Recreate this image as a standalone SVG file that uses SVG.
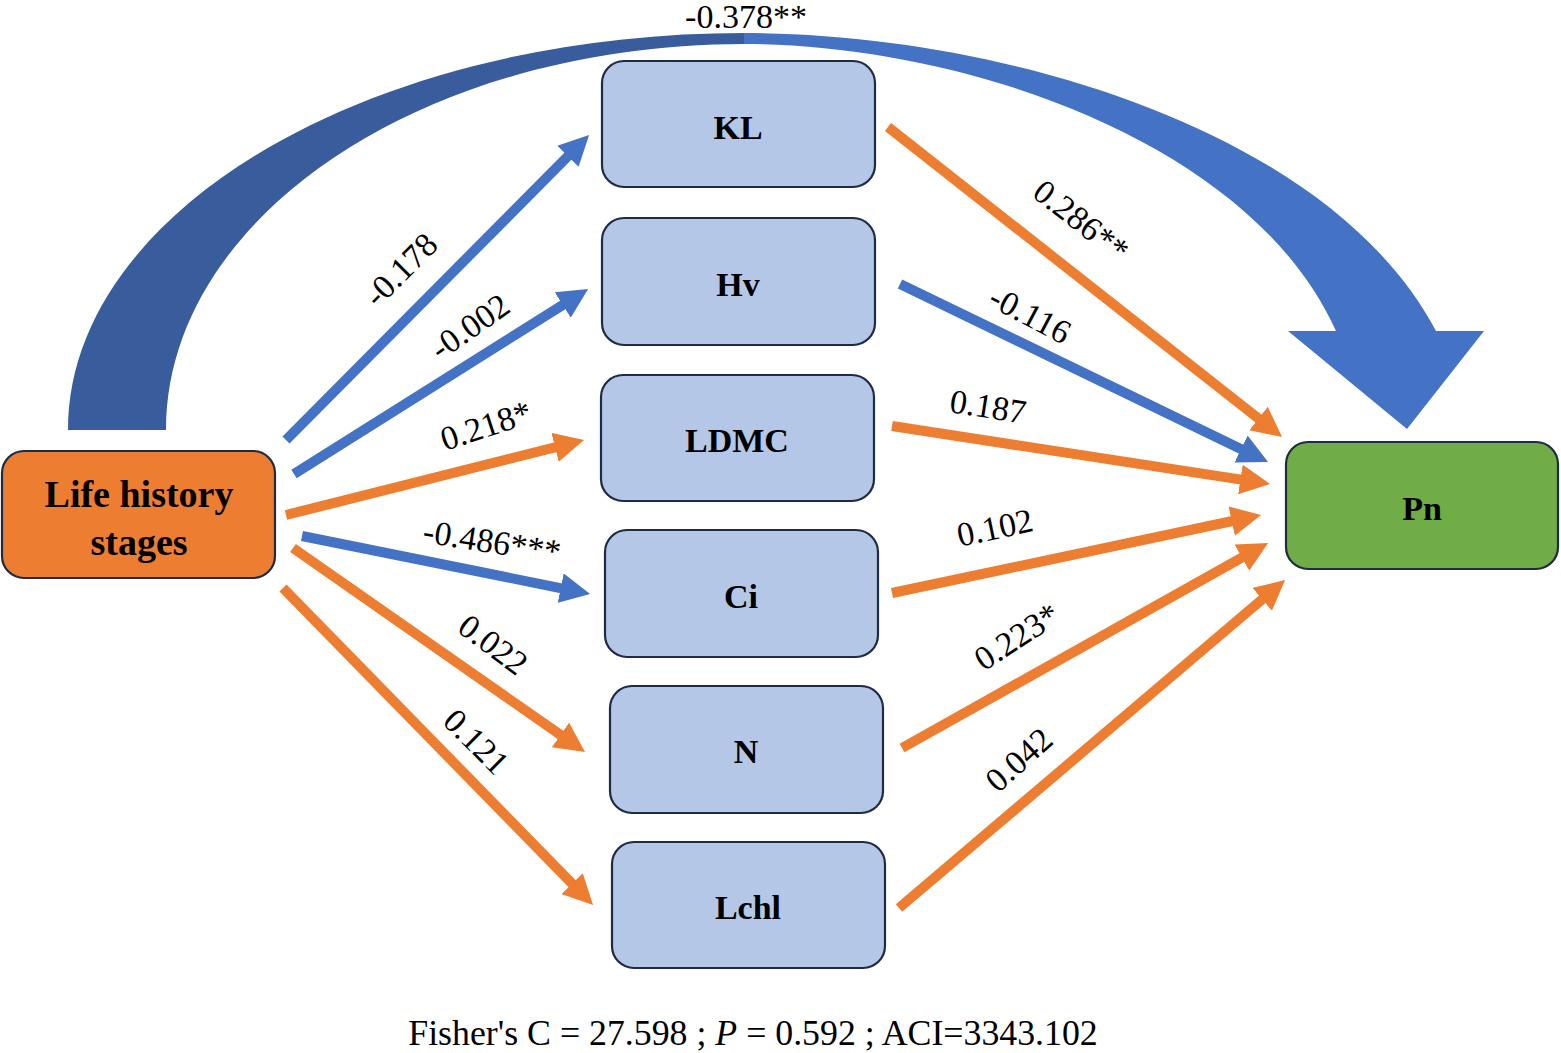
<svg xmlns="http://www.w3.org/2000/svg" width="1561" height="1053" viewBox="0 0 1561 1053">
<defs>
<style>
.node{stroke:#1E2B45;stroke-width:2.2}
.trait{fill:#B4C7E7}
.nl{font-family:"Liberation Serif","Times New Roman",serif;font-weight:bold;font-size:34px;fill:#000;text-anchor:middle}
.el{font-family:"Liberation Serif","Times New Roman",serif;font-size:34px;fill:#000;text-anchor:middle}
.o{stroke:#ED7D31;stroke-width:10;fill:none;marker-end:url(#ho)}
.b{stroke:#4472C4;stroke-width:10;fill:none;marker-end:url(#hb)}
</style>
<marker id="ho" viewBox="0 0 10 10" refX="0.3" refY="5" markerWidth="3" markerHeight="3" orient="auto" markerUnits="strokeWidth"><path d="M0,0 L10,5 L0,10 Z" fill="#ED7D31"/></marker>
<marker id="hb" viewBox="0 0 10 10" refX="0.3" refY="5" markerWidth="3" markerHeight="3" orient="auto" markerUnits="strokeWidth"><path d="M0,0 L10,5 L0,10 Z" fill="#4472C4"/></marker>
</defs>
<rect width="1561" height="1053" fill="#fff"/>
<g id="connectors">
<path id="big-arrow-left" d="M68,430 C68,211 369,33 745,33 L745,44 C423,44 166,217 166,430 Z" fill="#385C9C"/>
<path id="big-arrow-right" d="M744,33 C1000,33 1330,130 1436,331 L1484,331 L1407,429 L1288,331 L1336,331 C1250,140 960,44 744,44 Z" fill="#4472C4"/>
<line class="b" x1="286" y1="440" x2="568.6" y2="155.6"/>
<line class="b" x1="294" y1="474" x2="563.5" y2="304.5"/>
<line class="o" x1="286" y1="515" x2="555.9" y2="447.1"/>
<line class="b" x1="302" y1="536" x2="561.6" y2="588.3"/>
<line class="o" x1="293" y1="548" x2="561.2" y2="735.4"/>
<line class="o" x1="283" y1="588" x2="572.7" y2="884.3"/>
<line class="o" x1="888" y1="127" x2="1259.2" y2="419.1"/>
<line class="b" x1="900" y1="284" x2="1241.9" y2="449.4"/>
<line class="o" x1="892" y1="426" x2="1241.3" y2="479.6"/>
<line class="o" x1="892" y1="593" x2="1232.6" y2="521"/>
<line class="o" x1="902" y1="748" x2="1242.7" y2="557.2"/>
<line class="o" x1="899" y1="908" x2="1262.9" y2="598.8"/>
<text class="el" x="746" y="28">-0.378**</text>
<text class="el" transform="translate(401,270) rotate(-45)" y="11">-0.178</text>
<text class="el" transform="translate(470,327) rotate(-35)" y="11">-0.002</text>
<text class="el" transform="translate(486,426) rotate(-18)" y="11">0.218*</text>
<text class="el" transform="translate(492,542) rotate(9)" y="11">-0.486***</text>
<text class="el" transform="translate(493,645) rotate(37)" y="11">0.022</text>
<text class="el" transform="translate(476,742) rotate(45)" y="11">0.121</text>
<text class="el" transform="translate(1081,221) rotate(38)" y="11">0.286**</text>
<text class="el" transform="translate(1030,315) rotate(28)" y="11">-0.116</text>
<text class="el" transform="translate(988,407) rotate(9)" y="11">0.187</text>
<text class="el" transform="translate(995,528) rotate(-12)" y="11">0.102</text>
<text class="el" transform="translate(1017,637) rotate(-33)" y="11">0.223*</text>
<text class="el" transform="translate(1019,760) rotate(-42)" y="11">0.042</text>
</g>
<g id="node-lhs"><rect class="node" x="2" y="451" width="273" height="127" rx="22" fill="#ED7D31"/><text class="nl" x="139" y="507" style="font-size:38px">Life history</text><text class="nl" x="139" y="555" style="font-size:38px">stages</text></g>
<g id="node-KL"><rect class="node trait" x="602" y="61" width="273" height="126" rx="22"/><text class="nl" x="738" y="139">KL</text></g>
<g id="node-Hv"><rect class="node trait" x="602" y="218" width="273" height="127" rx="22"/><text class="nl" x="738" y="296">Hv</text></g>
<g id="node-LDMC"><rect class="node trait" x="601" y="375" width="273" height="126" rx="22"/><text class="nl" x="737" y="452">LDMC</text></g>
<g id="node-Ci"><rect class="node trait" x="605" y="530" width="273" height="127" rx="22"/><text class="nl" x="741" y="608">Ci</text></g>
<g id="node-N"><rect class="node trait" x="610" y="686" width="273" height="127" rx="22"/><text class="nl" x="746" y="763">N</text></g>
<g id="node-Lchl"><rect class="node trait" x="612" y="842" width="273" height="126" rx="22"/><text class="nl" x="748" y="919">Lchl</text></g>
<g id="node-Pn"><rect class="node" x="1286" y="442" width="272" height="127" rx="22" fill="#70AD47" stroke="#26402A"/><text class="nl" x="1422" y="520">Pn</text></g>
<text x="753" y="1045" style="font-family:'Liberation Serif','Times New Roman',serif;font-size:35.8px;text-anchor:middle">Fisher's C = 27.598 ; <tspan font-style="italic">P</tspan> = 0.592 ; ACI=3343.102</text>
</svg>
